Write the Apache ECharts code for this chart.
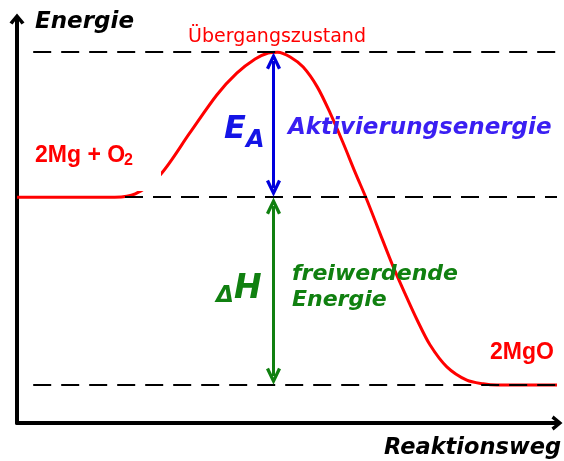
<!DOCTYPE html>
<html>
<head>
<meta charset="utf-8">
<script src="https://cdn.jsdelivr.net/npm/echarts@6/dist/echarts.min.js"></script>
<style>
  html, body { margin: 0; padding: 0; background: #fff; }
  #chart { width: 564px; height: 461px; }
</style>
</head>
<body>
<div id="chart"></div>
<script>
// energy levels (arbitrary units, axis 0..100)
var levels = { reactants: 55.9, transition: 91.8, products: 9.4 };
// reaction path: position and energy
var pathX = [0, 18.1, 21.9, 26.5, 32.0, 37.0, 40.7, 44.1, 46.5, 48.3, 50.6, 53.0, 55.6, 58.0, 60.4, 62.6, 64.8, 67.2, 69.6, 71.9, 74.1, 76.5, 79.6, 83.3, 86.3, 88.9, 100];
var pathE = [55.9, 55.9, 56.7, 61.4, 71.8, 81.2, 86.6, 90.1, 91.6, 91.8, 90.6, 88.1, 83.2, 76.7, 69.3, 62.1, 55.2, 47.0, 38.9, 31.9, 25.5, 19.3, 13.9, 10.6, 9.7, 9.4, 9.4];
var arrowX = 47.5;
var dashStart = [3, 20, 3];   // where each dashed level starts (x)

var curve = pathX.map(function (x, i) { return [x, pathE[i]]; });

var axisHead = 'path://M0,9 L7.5,0 L15,9 L12,11 L7.5,5 L3,11 Z';
var arrowHead = 'path://M0,15 L7,0 L14,15 L11.2,16.5 L7,7 L2.8,16.5 Z';
var headGap = 2.2;
var ff = '"DejaVu Sans", Verdana, sans-serif';
var fa = '"Liberation Sans", Arial, sans-serif';

var chart = echarts.init(document.getElementById('chart'));

var option = {
    animation: false,
    grid: { left: 17, right: 7, top: 19, bottom: 38 },
    xAxis: {
        type: 'value', min: 0, max: 100,
        axisLine: { lineStyle: { color: '#000', width: 4 }, symbol: ['none', axisHead], symbolSize: [15, 12] },
        axisTick: { show: false }, axisLabel: { show: false }, splitLine: { show: false }
    },
    yAxis: {
        type: 'value', min: 0, max: 100,
        axisLine: { show: true, onZero: false, lineStyle: { color: '#000', width: 4 }, symbol: ['none', axisHead], symbolSize: [15, 12] },
        axisTick: { show: false }, axisLabel: { show: false }, splitLine: { show: false }
    },
    series: [
        {
            // dashed energy levels
            type: 'line', data: [], z: 1, silent: true,
            markLine: {
                silent: true, symbol: 'none', label: { show: false },
                lineStyle: { color: '#000', width: 2, type: [18, 10] },
                data: [
                    [{ coord: [dashStart[0], levels.transition] }, { coord: [100, levels.transition] }],
                    [{ coord: [dashStart[1], levels.reactants] }, { coord: [100, levels.reactants] }],
                    [{ coord: [dashStart[2], levels.products] }, { coord: [100, levels.products] }]
                ]
            }
        },
        {
            type: 'line', data: curve, z: 3, smooth: 0.3, symbol: 'none',
            lineStyle: { color: '#ff0000', width: 3 }
        },
        {
            // E_A and dH arrows
            type: 'line', data: [], z: 4, silent: true,
            markLine: {
                silent: true, symbol: [arrowHead, arrowHead], symbolSize: [15, 17],
                label: { show: false },
                data: [
                    [{ coord: [arrowX, levels.reactants + headGap], lineStyle: { color: '#0000dd', width: 3, type: 'solid' } },
                     { coord: [arrowX, levels.transition - headGap] }],
                    [{ coord: [arrowX, levels.products + headGap], lineStyle: { color: '#108010', width: 3, type: 'solid' } },
                     { coord: [arrowX, levels.reactants - headGap] }]
                ]
            }
        }
    ],
    graphic: [
        { type: 'text', left: 35, top: 11, z: 100, style: { text: 'Energie', font: 'italic bold 23px ' + ff, fill: '#000' } },
        { type: 'text', left: 384, top: 437, z: 100, style: { text: 'Reaktionsweg', font: 'italic bold 22.5px ' + ff, fill: '#000' } },
        { type: 'text', x: 277, y: 28, z: 100, style: { text: 'Übergangszustand', font: '19px ' + ff, fill: '#ff0000', align: 'center' } },
        { type: 'rect', z: 100, shape: { x: 20, y: 128, width: 141, height: 63 }, style: { fill: '#fff' } },
        { type: 'text', left: 35, top: 144, z: 101, style: { text: '2Mg + O', font: 'bold 23px ' + fa, fill: '#ff0000' } },
        { type: 'text', left: 124, top: 153, z: 101, style: { text: '2', font: 'bold 16px ' + fa, fill: '#ff0000' } },
        { type: 'text', left: 490, top: 341, z: 100, style: { text: '2MgO', font: 'bold 23px ' + fa, fill: '#ff0000' } },
        { type: 'text', left: 224, top: 114, z: 100, style: { text: 'E', font: 'italic bold 32px ' + ff, fill: '#1414e6' } },
        { type: 'text', left: 246, top: 129, z: 100, style: { text: 'A', font: 'italic bold 24px ' + ff, fill: '#1414e6' } },
        { type: 'text', left: 288, top: 117, z: 100, style: { text: 'Aktivierungsenergie', font: 'italic bold 23px ' + ff, fill: '#3a1ff2' } },
        { type: 'text', left: 216, top: 285, z: 100, style: { text: 'Δ', font: 'italic bold 23px ' + ff, fill: '#108010' } },
        { type: 'text', left: 234, top: 273, z: 100, style: { text: 'H', font: 'italic bold 33px ' + ff, fill: '#108010' } },
        { type: 'text', left: 292, top: 261, z: 100, style: { text: 'freiwerdende\nEnergie', font: 'italic bold 22px ' + ff, lineHeight: 26, fill: '#108010' } }
    ]
};
chart.setOption(option);
</script>
</body>
</html>
